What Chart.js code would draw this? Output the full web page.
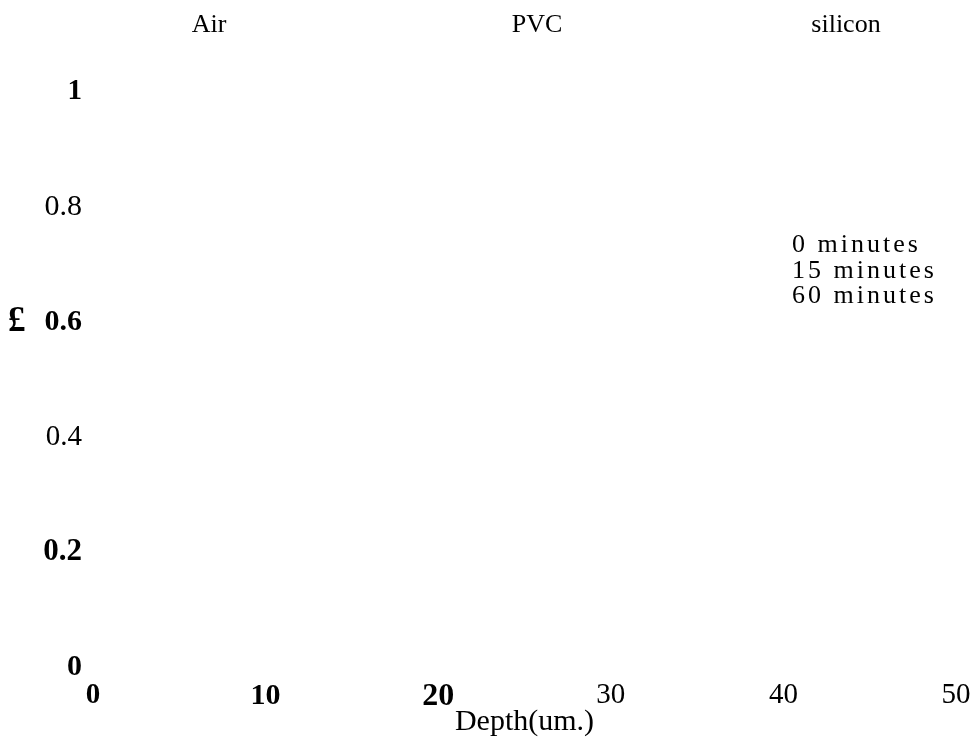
<!DOCTYPE html>
<html>
<head>
<meta charset="utf-8">
<script src="https://cdn.jsdelivr.net/npm/chart.js@4/dist/chart.umd.min.js"></script>
<style>
html, body { margin: 0; padding: 0; background: #ffffff; }
#wrap { width: 976px; height: 748px; position: relative; }
</style>
</head>
<body>
<div id="wrap"><canvas id="c"></canvas></div>
<script>
// ---- data (no curves are visible in it) ----
const seriesLabels = ['0 minutes', '15 minutes', '60 minutes'];
const series0min = [];
const series15min = [];
const series60min = [];
const materials = ['Air', 'PVC', 'silicon'];
const xTickValues = [0, 10, 20, 30, 40, 50];
const xTickLabels = ['0', '10', '20', '30', '40', '50'];
const yTickValues = [0, 0.2, 0.4, 0.6, 0.8, 1];
const yTickLabels = ['0', '0.2', '0.4', '0.6', '0.8', '1'];
const xTitle = 'Depth(um.)';
const yTitle = '£';

// ---- styling ----
const SERIF = "'Liberation Serif', 'Times New Roman', serif";
const xTickFonts = [
  { size: 29, weight: 'bold' }, { size: 30, weight: 'bold' }, { size: 32, weight: 'bold' },
  { size: 29, weight: 'normal' }, { size: 29, weight: 'normal' }, { size: 29, weight: 'normal' }
];
const yTickFonts = [
  { size: 30, weight: 'bold' }, { size: 31, weight: 'bold' }, { size: 29, weight: 'normal' },
  { size: 30, weight: 'bold' }, { size: 30, weight: 'normal' }, { size: 29, weight: 'bold' }
];
function pickFont(list, c) {
  const f = (c && typeof c.index === 'number' && list[c.index]) ? list[c.index] : { size: 29, weight: 'normal' };
  return { family: SERIF, size: f.size, weight: f.weight };
}

const overlay = {
  id: 'overlay',
  afterDraw(chart) {
    const ctx = chart.ctx;
    const yScale = chart.scales.y;
    ctx.save();
    ctx.fillStyle = '#000000';
    // top labels
    ctx.font = '26px ' + SERIF;
    ctx.textAlign = 'center';
    ctx.textBaseline = 'alphabetic';
    const topX = [209, 537, 846];
    materials.forEach((m, i) => ctx.fillText(m, topX[i], 32));
    // y axis title
    ctx.font = 'bold 35px ' + SERIF;
    ctx.textAlign = 'left';
    ctx.textBaseline = 'middle';
    ctx.fillText(yTitle, 8, yScale.getPixelForValue(0.6));
    // legend (text only)
    ctx.font = '26px ' + SERIF;
    ctx.textBaseline = 'alphabetic';
    ctx.letterSpacing = '3px';
    chart.data.datasets.forEach((ds, i) => {
      ctx.fillText(ds.label, 792, 252 + i * 25.5);
    });
    ctx.restore();
  }
};

new Chart(document.getElementById('c'), {
  type: 'line',
  data: {
    datasets: [
      { label: seriesLabels[0], data: series0min, borderColor: '#000', pointRadius: 0 },
      { label: seriesLabels[1], data: series15min, borderColor: '#000', pointRadius: 0 },
      { label: seriesLabels[2], data: series60min, borderColor: '#000', pointRadius: 0 }
    ]
  },
  options: {
    responsive: true,
    maintainAspectRatio: false,
    animation: false,
    layout: { padding: { top: 92, right: 20, left: 0, bottom: 0 } },
    plugins: { legend: { display: false }, tooltip: { enabled: false } },
    scales: {
      x: {
        type: 'linear',
        min: 0, max: 50,
        grid: { display: false },
        border: { display: false },
        afterBuildTicks: (s) => { s.ticks = xTickValues.map(v => ({ value: v })); },
        afterFit: (s) => { s.height = 81; },
        ticks: {
          autoSkip: false, maxRotation: 0, padding: 3, color: '#000',
          callback: (v, i) => xTickLabels[i],
          font: (c) => pickFont(xTickFonts, c)
        },
        title: {
          display: true, text: xTitle, color: '#000',
          font: { family: SERIF, size: 30 },
          padding: { top: 0, bottom: 8 }
        }
      },
      y: {
        type: 'linear',
        min: 0, max: 1,
        grid: { display: false },
        border: { display: false },
        afterBuildTicks: (s) => { s.ticks = yTickValues.map(v => ({ value: v })); },
        afterFit: (s) => { s.width = 93; },
        ticks: {
          autoSkip: false, padding: 3, color: '#000',
          callback: (v, i) => yTickLabels[i],
          font: (c) => pickFont(yTickFonts, c)
        }
      }
    }
  },
  plugins: [overlay]
});
</script>
</body>
</html>
